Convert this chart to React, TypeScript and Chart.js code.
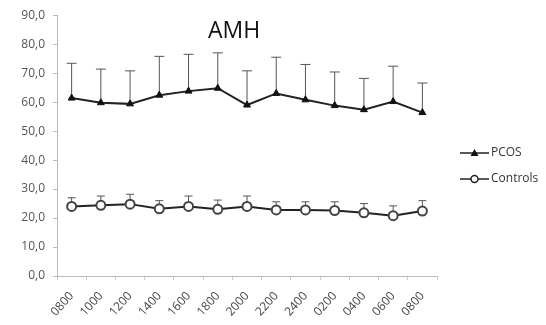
import React, { useEffect, useRef } from "react";
import { Chart, registerables } from "chart.js";
Chart.register(...registerables);

const categories = ["0800", "1000", "1200", "1400", "1600", "1800", "2000", "2200", "2400", "0200", "0400", "0600", "0800"];
const pcos = [61.4, 59.8, 59.4, 62.4, 63.8, 64.8, 59.0, 63.0, 60.8, 58.8, 57.4, 60.2, 56.4];
const pcosUpper = [73.4, 71.4, 70.8, 75.8, 76.5, 77.0, 70.8, 75.5, 73.0, 70.4, 68.2, 72.4, 66.6];
const controls = [24.0, 24.4, 24.8, 23.2, 24.0, 23.0, 24.0, 22.8, 22.8, 22.6, 21.8, 20.8, 22.4];
const controlsUpper = [27.0, 27.6, 28.2, 26.0, 27.6, 26.2, 27.6, 25.6, 25.6, 25.6, 25.0, 24.2, 26.0];
const yTicks = [0, 10, 20, 30, 40, 50, 60, 70, 80, 90];
const title = "AMH";
const seriesNames = ["PCOS", "Controls"];

const FONT = "'Open Sans', 'DejaVu Sans', sans-serif";

const errorBars = {
  id: "errorBars",
  beforeDatasetsDraw(chart: any) {
    const { ctx } = chart;
    const y = chart.scales.y;
    const uppers = [pcosUpper, controlsUpper];
    const caps = [5, 4];
    chart.data.datasets.forEach((ds: any, di: number) => {
      const meta = chart.getDatasetMeta(di);
      ctx.save();
      ctx.strokeStyle = "#555";
      ctx.lineWidth = 1;
      meta.data.forEach((pt: any, i: number) => {
        const top = y.getPixelForValue(uppers[di][i]);
        ctx.beginPath();
        ctx.moveTo(pt.x, pt.y);
        ctx.lineTo(pt.x, top);
        ctx.moveTo(pt.x - caps[di], top);
        ctx.lineTo(pt.x + caps[di], top);
        ctx.stroke();
      });
      ctx.restore();
    });
  },
};

const decorations = {
  id: "decorations",
  afterDraw(chart: any) {
    const { ctx } = chart;
    ctx.save();
    ctx.fillStyle = "#111";
    ctx.font = `23px ${FONT}`;
    ctx.textAlign = "center";
    ctx.textBaseline = "middle";
    ctx.fillText(title, 234, 31);
    const items = [
      { y: 153, style: "triangle", fill: "#111" },
      { y: 179, style: "circle", fill: "#fff" },
    ];
    items.forEach((it, i) => {
      ctx.strokeStyle = "#222";
      ctx.lineWidth = 1.5;
      ctx.beginPath();
      ctx.moveTo(460, it.y);
      ctx.lineTo(489, it.y);
      ctx.stroke();
      ctx.fillStyle = it.fill;
      ctx.beginPath();
      if (it.style === "triangle") {
        ctx.moveTo(474.5, it.y - 4);
        ctx.lineTo(478.5, it.y + 3);
        ctx.lineTo(470.5, it.y + 3);
        ctx.closePath();
        ctx.fill();
      } else {
        ctx.arc(474.5, it.y, 3.5, 0, Math.PI * 2);
        ctx.fill();
        ctx.stroke();
      }
      ctx.fillStyle = "#333";
      ctx.font = `12px ${FONT}`;
      ctx.textAlign = "left";
      ctx.fillText(seriesNames[i], 491, it.y);
    });
    ctx.restore();
  },
};

export default function App() {
  const ref = useRef<HTMLCanvasElement>(null);
  useEffect(() => {
    const chart = new Chart(ref.current!, {
      type: "line",
      data: {
        labels: categories,
        datasets: [
          {
            label: seriesNames[0],
            data: pcos,
            borderColor: "#222",
            backgroundColor: "#111",
            borderWidth: 2,
            pointStyle: "triangle",
            pointRadius: 4,
            pointBorderWidth: 1,
            pointBorderColor: "#111",
            tension: 0,
          },
          {
            label: seriesNames[1],
            data: controls,
            borderColor: "#222",
            backgroundColor: "#fff",
            borderWidth: 2,
            pointStyle: "circle",
            pointRadius: 4.5,
            pointBorderWidth: 2,
            pointBorderColor: "#444",
            tension: 0,
          },
        ],
      },
      options: {
        animation: false,
        responsive: false,
        layout: { padding: { left: 0, top: 15, right: 109, bottom: 0 } },
        plugins: { legend: { display: false }, title: { display: false }, tooltip: { enabled: false } },
        scales: {
          x: {
            offset: true,
            grid: { drawOnChartArea: false, offset: true, drawTicks: true, tickLength: 4, color: "#ccc" },
            border: { color: "#bbb", width: 1 },
            ticks: {
              color: "#444",
              font: { family: FONT, size: 12 },
              minRotation: 48,
              maxRotation: 48,
              autoSkip: false,
              padding: 9,
            },
            afterFit: (s: any) => { s.height = 49; },
          },
          y: {
            min: 0,
            max: 90,
            afterBuildTicks: (s: any) => { s.ticks = yTicks.map((v) => ({ value: v })); },
            grid: { drawOnChartArea: false, drawTicks: true, tickLength: 4, color: "#bbb" },
            border: { color: "#bbb", width: 1 },
            ticks: {
              color: "#555",
              font: { family: FONT, size: 12 },
              padding: 8,
              callback: (v: any) => Number(v).toFixed(1).replace(".", ","),
            },
            afterFit: (s: any) => { s.width = 57; },
          },
        },
      },
      plugins: [errorBars, decorations],
    });
    return () => chart.destroy();
  }, []);
  return (
    <div style={{ position: "absolute", left: 0, top: 0, width: 546, height: 325, background: "#fff" }}>
      <canvas ref={ref} width={546} height={325} style={{ width: 546, height: 325 }} />
    </div>
  );
}
